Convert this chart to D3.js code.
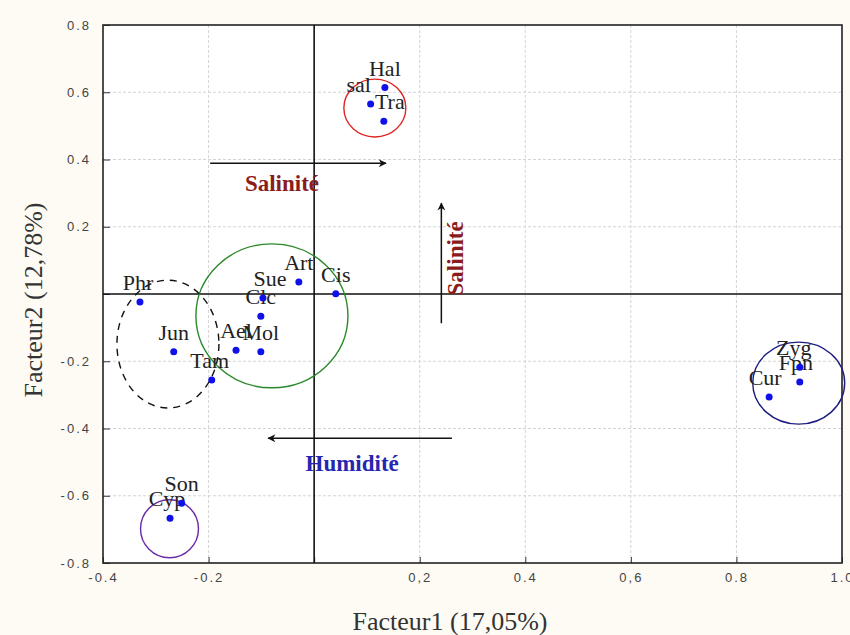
<!DOCTYPE html>
<html>
<head>
<meta charset="utf-8">
<script src="https://cdn.jsdelivr.net/npm/d3@7"></script>
<style>
  html, body { margin: 0; padding: 0; background: #fdfbf4; }
  svg { display: block; }
</style>
</head>
<body>
<svg id="chart" width="850" height="635"></svg>
<script>
// ---- Data ----
const species = ["Hal", "sal", "Tra", "Art", "Cis", "Sue", "Clc", "Ael", "Mol", "Jun", "Phr", "Tam", "Zyg", "Fpn", "Cur", "Son", "Cyp"];
const factor1 = [0.134, 0.107, 0.132, -0.029, 0.041, -0.097, -0.101, -0.148, -0.101, -0.266, -0.330, -0.194, 0.920, 0.920, 0.862, -0.251, -0.273];
const factor2 = [0.614, 0.565, 0.514, 0.036, 0.001, -0.012, -0.066, -0.167, -0.172, -0.172, -0.024, -0.256, -0.218, -0.262, -0.306, -0.622, -0.667];
const xTicks = [-0.4, -0.2, 0, 0.2, 0.4, 0.6, 0.8, 1.0];
const xTickLabels = ["-0.4", "-0.2", "", "0,2", "0.4", "0,6", "0.8", "1.0"];
const yTicks = [0.8, 0.6, 0.4, 0.2, 0, -0.2, -0.4, -0.6, -0.8];
const yTickLabels = ["0.8", "0.6", "0.4", "0.2", "", "-0.2", "-0.4", "-0.6", "-0.8"];
const xTitle = "Facteur1 (17,05%)";
const yTitle = "Facteur2 (12,78%)";

// ---- Layout ----
const L = 103, R = 842, T = 25, B = 563;
const x = d3.scaleLinear().domain([-0.4, 1.0]).range([L, R]);
const y = d3.scaleLinear().domain([-0.8, 0.8]).range([B, T]);
const svg = d3.select("#chart");
const serif = "Liberation Serif, Times New Roman, serif";

svg.append("rect").attr("x", L).attr("y", T).attr("width", R - L).attr("height", B - T).attr("fill", "#ffffff");

// grid
const grid = svg.append("g");
grid.selectAll("line.gx").data(xTicks.filter(d => d > -0.4 && d < 1.0 && d !== 0)).join("line")
  .attr("x1", d => x(d)).attr("x2", d => x(d)).attr("y1", T).attr("y2", B)
  .attr("stroke", "#d4d4d4").attr("stroke-width", 1).attr("stroke-dasharray", "3,2");
grid.selectAll("line.gy").data(yTicks.filter(d => d > -0.8 && d < 0.8 && d !== 0)).join("line")
  .attr("y1", d => y(d)).attr("y2", d => y(d)).attr("x1", L).attr("x2", R)
  .attr("stroke", "#d4d4d4").attr("stroke-width", 1).attr("stroke-dasharray", "3,2");

// axes (ticks inward)
const xAxis = d3.axisBottom(x).tickValues(xTicks).tickSize(-6).tickFormat((d, i) => xTickLabels[i]).tickPadding(10);
const yAxis = d3.axisLeft(y).tickValues(yTicks).tickSize(-7).tickFormat((d, i) => yTickLabels[i]).tickPadding(12);
const gx = svg.append("g").attr("transform", `translate(0,${B})`).call(xAxis);
const gy = svg.append("g").attr("transform", `translate(${L},0)`).call(yAxis);
[gx, gy].forEach(g => {
  g.select(".domain").remove();
  g.selectAll(".tick line").attr("stroke", "#333").attr("stroke-width", 1);
  g.selectAll(".tick text").attr("font-family", "Liberation Sans, Arial, sans-serif")
    .attr("font-size", 13).attr("fill", "#444").attr("letter-spacing", "2px");
});

// frame
svg.append("rect").attr("x", L).attr("y", T).attr("width", R - L).attr("height", B - T)
  .attr("fill", "none").attr("stroke", "#222").attr("stroke-width", 1.6);

// zero lines
svg.append("line").attr("x1", L).attr("x2", R).attr("y1", y(0)).attr("y2", y(0)).attr("stroke", "#111").attr("stroke-width", 1.6);
svg.append("line").attr("x1", x(0)).attr("x2", x(0)).attr("y1", T).attr("y2", B).attr("stroke", "#111").attr("stroke-width", 1.6);

// group ellipses (data units)
const groups = [
  { cx: 0.115, cy: 0.553, rx: 0.0587, ry: 0.086, color: "#e02424", dash: null },
  { cx: -0.080, cy: -0.065, rx: 0.144, ry: 0.214, color: "#2a8a2a", dash: null },
  { cx: -0.277, cy: -0.149, rx: 0.0966, ry: 0.190, color: "#111", dash: "7,6" },
  { cx: 0.918, cy: -0.265, rx: 0.0871, ry: 0.122, color: "#1c1c80", dash: null },
  { cx: -0.274, cy: -0.698, rx: 0.0549, ry: 0.0863, color: "#6a2ca8", dash: null }
];
svg.append("g").selectAll("ellipse").data(groups).join("ellipse")
  .attr("cx", d => x(d.cx)).attr("cy", d => y(d.cy))
  .attr("rx", d => x(d.cx + d.rx) - x(d.cx)).attr("ry", d => y(d.cy) - y(d.cy + d.ry))
  .attr("fill", "none").attr("stroke", d => d.color).attr("stroke-width", 1.4)
  .attr("stroke-dasharray", d => d.dash);

// arrows
const defs = svg.append("defs");
defs.append("marker").attr("id", "ah").attr("viewBox", "0 0 10 10").attr("refX", 9).attr("refY", 5)
  .attr("markerWidth", 10).attr("markerHeight", 8).attr("orient", "auto").attr("markerUnits", "userSpaceOnUse")
  .append("path").attr("d", "M0,0 L10,5 L0,10 L3,5 Z").attr("fill", "#111");
const arrows = [
  { x1: -0.197, y1: 0.389, x2: 0.136, y2: 0.389 },
  { x1: 0.241, y1: -0.087, x2: 0.241, y2: 0.270 },
  { x1: 0.261, y1: -0.429, x2: -0.087, y2: -0.429 }
];
svg.append("g").selectAll("line").data(arrows).join("line")
  .attr("x1", d => x(d.x1)).attr("y1", d => y(d.y1)).attr("x2", d => x(d.x2)).attr("y2", d => y(d.y2))
  .attr("stroke", "#111").attr("stroke-width", 1.5).attr("marker-end", "url(#ah)");

const notes = [
  { t: "Salinité", x: -0.061, y: 0.329, rot: 0, color: "#8a1c1c" },
  { t: "Salinité", x: 0.267, y: 0.106, rot: -90, color: "#8a1c1c" },
  { t: "Humidité", x: 0.072, y: -0.503, rot: 0, color: "#2626b0" }
];
svg.append("g").selectAll("text").data(notes).join("text")
  .attr("transform", d => `translate(${x(d.x)},${y(d.y)}) rotate(${d.rot})`)
  .attr("text-anchor", "middle").attr("dominant-baseline", "central")
  .attr("font-family", serif).attr("font-weight", "bold")
  .attr("font-size", 23).attr("fill", d => d.color).text(d => d.t);

// points
const pts = species.map((s, i) => ({ s, f1: factor1[i], f2: factor2[i] }));
const nudge = { sal: -12, Tra: 6, Sue: 7, Zyg: -6, Fpn: -4, Cur: -4, Cyp: -3, Tam: -2, Phr: -2 };
svg.append("g").selectAll("text").data(pts).join("text")
  .attr("x", d => x(d.f1) + (nudge[d.s] || 0)).attr("y", d => y(d.f2) - 12)
  .attr("text-anchor", "middle")
  .attr("font-family", serif).attr("font-size", 22)
  .attr("fill", "#222").text(d => d.s);
svg.append("g").selectAll("circle").data(pts).join("circle")
  .attr("cx", d => x(d.f1)).attr("cy", d => y(d.f2)).attr("r", 3.5).attr("fill", "#1010e8");

// titles
svg.append("text").attr("x", 450).attr("y", 630).attr("text-anchor", "middle")
  .attr("font-family", serif).attr("font-size", 26).attr("fill", "#333").text(xTitle);
svg.append("text").attr("transform", `translate(42,300) rotate(-90)`).attr("text-anchor", "middle")
  .attr("font-family", serif).attr("font-size", 26).attr("fill", "#333").text(yTitle);
</script>
</body>
</html>
